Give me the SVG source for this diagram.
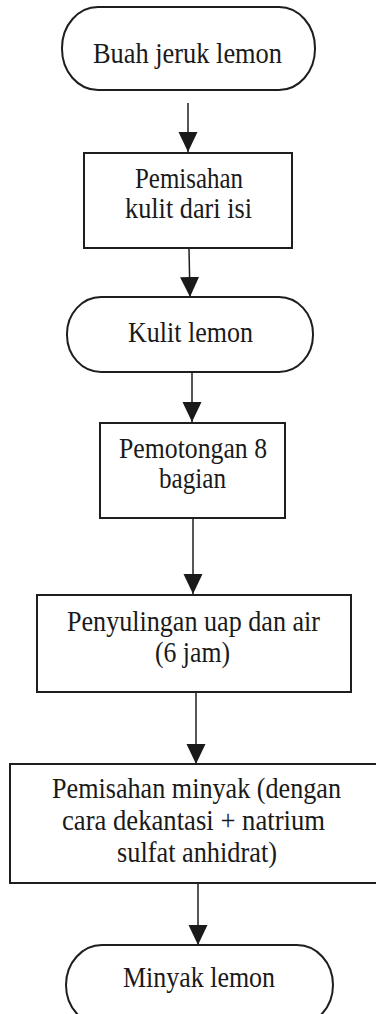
<svg xmlns="http://www.w3.org/2000/svg" width="376" height="1014" viewBox="0 0 376 1014">
  <style>
    .shape { fill: #ffffff; stroke: #1e1e1e; stroke-width: 2; }
    /* narrow, tall serif lettering: 26px type stretched vertically */
    .label { font-family: "Liberation Serif", "Times New Roman", serif; font-size: 26px; fill: #1a1a1a; text-anchor: middle; }
    .flow { stroke: #1e1e1e; stroke-width: 1.5; fill: none; marker-end: url(#head); }
  </style>
  <defs>
    <marker id="head" viewBox="0 0 20 20" refX="20" refY="10" markerWidth="20" markerHeight="20" markerUnits="userSpaceOnUse" orient="auto">
      <path d="M0,0.5 L20,10 L0,19.5 z" fill="#1a1a1a"/>
    </marker>
  </defs>
  <rect width="376" height="1014" fill="#ffffff"/>

  <g id="connectors">
    <line class="flow" x1="188" y1="103" x2="188" y2="152"/>
    <line class="flow" x1="189" y1="249" x2="190" y2="297"/>
    <line class="flow" x1="192" y1="373" x2="192" y2="422"/>
    <line class="flow" x1="193" y1="519" x2="193" y2="594"/>
    <line class="flow" x1="196" y1="693" x2="196" y2="764"/>
    <line class="flow" x1="198" y1="884" x2="198" y2="945"/>
  </g>

  <g id="buah-jeruk-lemon">
    <rect class="shape" x="62" y="7" width="253" height="83" rx="36" ry="41"/>
    <text class="label" transform="translate(187.5,63) scale(1,1.15)" textLength="189" lengthAdjust="spacingAndGlyphs">Buah jeruk lemon</text>
  </g>

  <g id="pemisahan-kulit">
    <rect class="shape" x="84" y="153" width="208" height="95"/>
    <text class="label" transform="translate(189,188) scale(1,1.15)" textLength="108" lengthAdjust="spacingAndGlyphs">Pemisahan</text>
    <text class="label" transform="translate(188.5,218) scale(1,1.15)" textLength="127" lengthAdjust="spacingAndGlyphs">kulit dari isi</text>
  </g>

  <g id="kulit-lemon">
    <rect class="shape" x="67" y="297" width="246" height="75" rx="34" ry="37"/>
    <text class="label" transform="translate(190.5,342) scale(1,1.15)" textLength="125" lengthAdjust="spacingAndGlyphs">Kulit lemon</text>
  </g>

  <g id="pemotongan">
    <rect class="shape" x="100" y="423" width="185" height="95"/>
    <text class="label" transform="translate(193,458) scale(1,1.15)" textLength="148" lengthAdjust="spacingAndGlyphs">Pemotongan 8</text>
    <text class="label" transform="translate(192.5,488) scale(1,1.15)" textLength="67" lengthAdjust="spacingAndGlyphs">bagian</text>
  </g>

  <g id="penyulingan">
    <rect class="shape" x="37" y="595" width="314" height="97"/>
    <text class="label" transform="translate(193.5,631) scale(1,1.15)" textLength="253" lengthAdjust="spacingAndGlyphs">Penyulingan uap dan air</text>
    <text class="label" transform="translate(192.5,662) scale(1,1.15)" textLength="75" lengthAdjust="spacingAndGlyphs">(6 jam)</text>
  </g>

  <g id="pemisahan-minyak">
    <!-- this box runs past the right edge of the page, so only three sides are drawn -->
    <path class="shape" d="M376,764 H10 V883 H376"/>
    <text class="label" transform="translate(196.5,798) scale(1,1.15)" textLength="289" lengthAdjust="spacingAndGlyphs">Pemisahan minyak (dengan</text>
    <text class="label" transform="translate(193.5,830) scale(1,1.15)" textLength="263" lengthAdjust="spacingAndGlyphs">cara dekantasi + natrium</text>
    <text class="label" transform="translate(197,862) scale(1,1.15)" textLength="160" lengthAdjust="spacingAndGlyphs">sulfat anhidrat)</text>
  </g>

  <g id="minyak-lemon">
    <rect class="shape" x="66" y="945" width="267" height="80" rx="36" ry="40"/>
    <text class="label" transform="translate(199,987) scale(1,1.15)" textLength="152" lengthAdjust="spacingAndGlyphs">Minyak lemon</text>
  </g>
</svg>
